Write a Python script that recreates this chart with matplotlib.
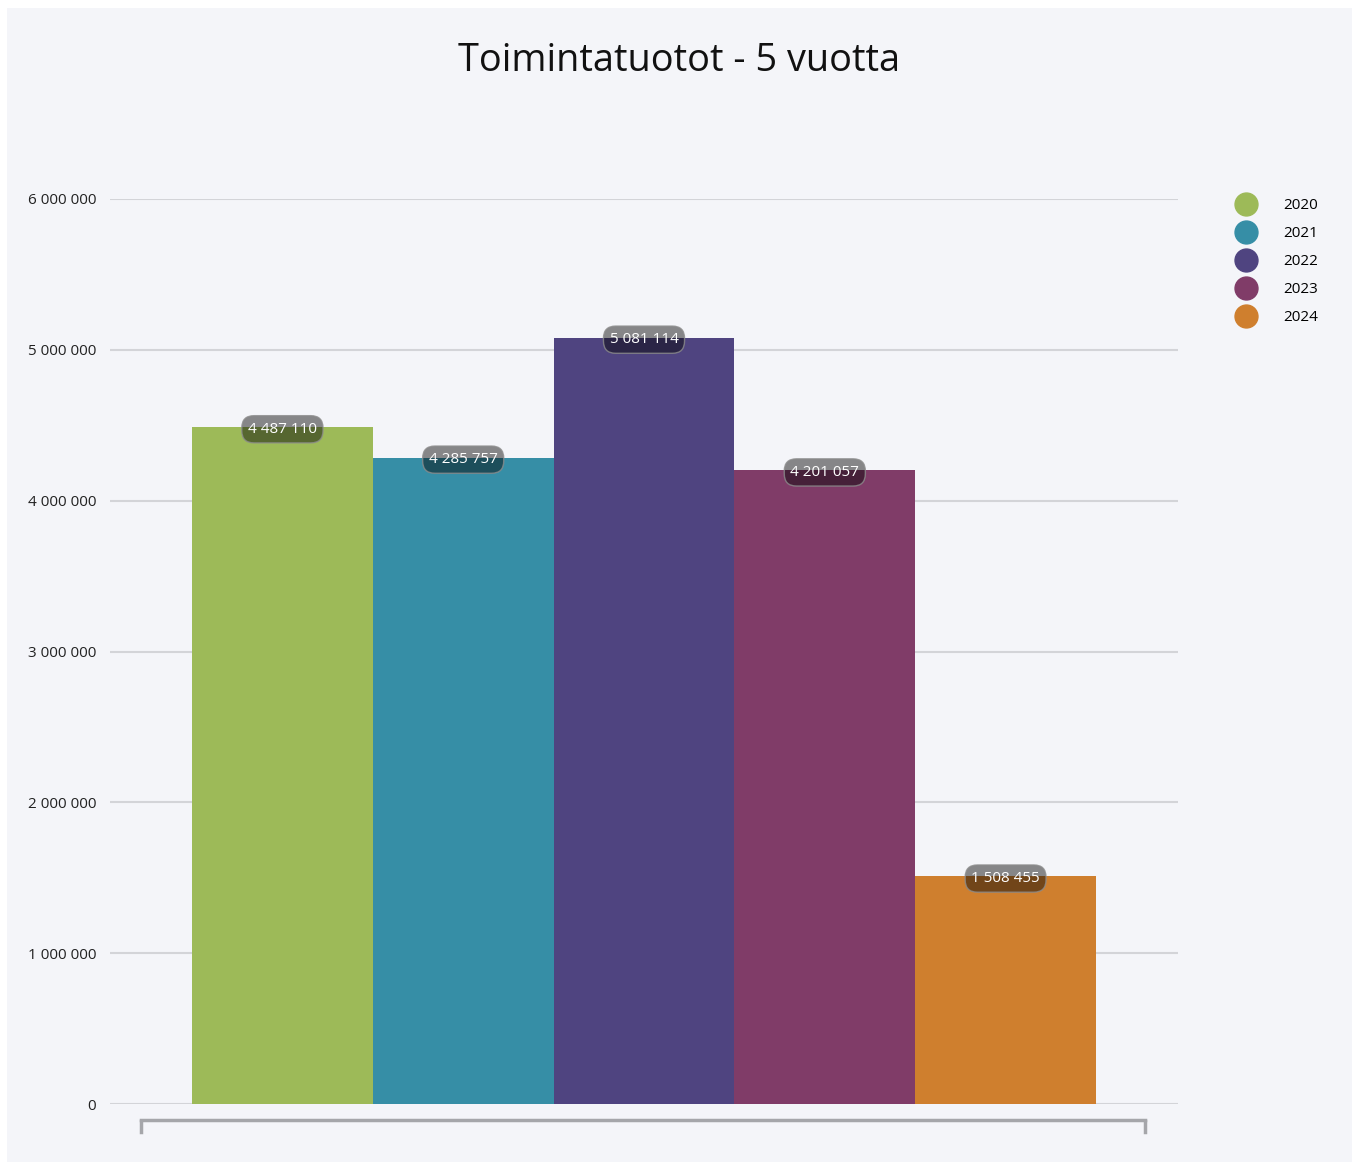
import matplotlib.pyplot as plt
from matplotlib.lines import Line2D
from matplotlib.patches import Rectangle

years = ["2020", "2021", "2022", "2023", "2024"]
values = [4487110, 4285757, 5081114, 4201057, 1508455]
colors = ["#9dba58", "#368ea6", "#4f4480", "#803c68", "#cf7f2e"]
yticks = [0, 1000000, 2000000, 3000000, 4000000, 5000000, 6000000]

plt.rcParams['font.family'] = ['Open Sans', 'DejaVu Sans']

W, H = 1357, 1164
fig = plt.figure(figsize=(W / 100, H / 100), dpi=100)
fig.patch.set_facecolor("white")
# light panel behind everything
fig.add_artist(Rectangle((7 / W, 2 / H), 1345 / W, 1154 / H, transform=fig.transFigure,
                         facecolor="#f4f5f9", edgecolor="none", zorder=-10))

def fmt(v):
    return "{:,}".format(v).replace(",", " ")

ax = fig.add_axes([110 / W, (H - 1104) / H, 1068 / W, 905 / H])
ax.set_facecolor("none")
x = list(range(len(values)))
ax.bar(x, values, width=1.0, color=colors, zorder=2)
ax.set_xlim(-0.9535, 4.9535)
ax.set_ylim(0, 6000000)
ax.set_yticks(yticks)
ax.set_yticklabels([fmt(v) for v in yticks], fontsize=11, color="#222222")
ax.set_xticks([])
ax.grid(axis="y", color="#d3d4d8", linewidth=1.5, zorder=0)
ax.set_axisbelow(True)
ax.tick_params(axis="y", length=0, pad=10)
for s in ax.spines.values():
    s.set_visible(False)

for xi, v in zip(x, values):
    ax.annotate(fmt(v), (xi, v), xytext=(0, -1.5), textcoords="offset points",
                ha="center", va="center", fontsize=11, color="white", zorder=5,
                bbox=dict(boxstyle="round,pad=0.4,rounding_size=0.8", facecolor=(0, 0, 0, 0.45),
                          edgecolor=(0.55, 0.55, 0.55, 0.8), linewidth=1))

# bracket under the plot
fig.add_artist(Line2D([141 / W, 1145 / W], [(H - 1120) / H] * 2, color="#a5a6aa", lw=2.5))
for xp in (141, 1145):
    fig.add_artist(Line2D([xp / W] * 2, [(H - 1121) / H, (H - 1132) / H], color="#a5a6aa", lw=2.5))

fig.text(679 / W, (H - 61) / H, "Toimintatuotot - 5 vuotta", ha="center", va="center",
         fontsize=27.3, color="#111111")

handles = [Line2D([], [], marker="o", linestyle="none", markersize=16.5, color=c) for c in colors]
leg = fig.legend(handles, years, loc="upper left", bbox_to_anchor=(1225 / W, (H - 192) / H),
                 frameon=False, fontsize=11, labelspacing=0.85, handletextpad=1.4,
                 borderaxespad=0)

fig.savefig("out.png", dpi=100)
